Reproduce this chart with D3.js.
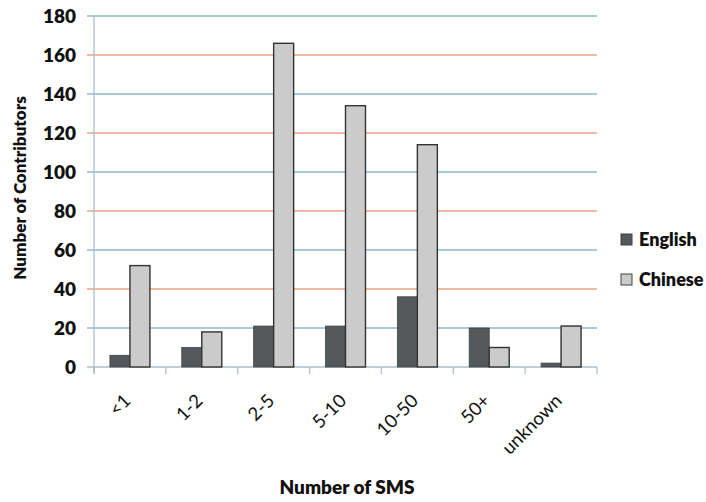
<!DOCTYPE html>
<html><head><meta charset="utf-8">
<script src="https://cdn.jsdelivr.net/npm/d3@7"></script>
<style>body{margin:0;background:#fff;} text{font-family:Lato,"Open Sans",sans-serif;font-weight:bold;}</style>
</head><body>
<svg id="c" width="706" height="502"></svg>
<script>
const categories = ["<1","1-2","2-5","5-10","10-50","50+","unknown"];
const english = [6,10,21,21,36,20,2];
const chinese = [52,18,166,134,114,10,21];
const yTicks = [0,20,40,60,80,100,120,140,160,180];
const seriesNames = ["English","Chinese"];

const svg = d3.select("#c");
const pL = 94, pR = 597, pT = 16, pB = 367;
const x = d3.scaleBand().domain(categories).range([pL,pR]);
const y = d3.scaleLinear().domain([0,180]).range([pB,pT]);

// gridlines
svg.append("g").selectAll("line").data(yTicks.filter(d=>d>0)).join("line")
  .attr("x1",pL-7).attr("x2",pR).attr("y1",d=>y(d)).attr("y2",d=>y(d))
  .attr("stroke",d=> (d/20)%2===1 ? "#8db8d2" : "#e4a486").attr("stroke-width",1.3);

// y axis line
svg.append("line").attr("x1",pL).attr("x2",pL).attr("y1",pT).attr("y2",pB+6)
  .attr("stroke","#a9bfcc").attr("stroke-width",1.3);
// x axis line
svg.append("line").attr("x1",pL-7).attr("x2",pR).attr("y1",pB).attr("y2",pB)
  .attr("stroke","#a9bfcc").attr("stroke-width",1.3);
// x ticks at band boundaries
const bounds = categories.map(c=>x(c)).concat([pR]);
svg.append("g").selectAll("line").data(bounds).join("line")
  .attr("x1",d=>d).attr("x2",d=>d).attr("y1",pB).attr("y2",pB+7)
  .attr("stroke","#a9bfcc").attr("stroke-width",1.3);

// y tick labels
svg.append("g").selectAll("text").data(yTicks).join("text")
  .attr("x",76).attr("y",d=>y(d)).attr("dy","0.36em").attr("text-anchor","end")
  .attr("font-size",19).style("font-weight",800).attr("fill","#111").text(d=>d);

const bw = 20;
// English bars
svg.append("g").selectAll("rect").data(english).join("rect")
  .attr("x",(d,i)=>x(categories[i])+x.bandwidth()/2-bw).attr("width",bw)
  .attr("y",d=>y(d)).attr("height",d=>pB-y(d))
  .attr("fill","#56595b").attr("stroke","#3e4244").attr("stroke-width",0.8);
// Chinese bars
svg.append("g").selectAll("rect").data(chinese).join("rect")
  .attr("x",(d,i)=>x(categories[i])+x.bandwidth()/2).attr("width",bw)
  .attr("y",d=>y(d)).attr("height",d=>pB-y(d))
  .attr("fill","#cbcbcb").attr("stroke","#333").attr("stroke-width",1.4);

// x tick labels
svg.append("g").selectAll("text").data(categories).join("text")
  .attr("transform",d=>`translate(${x(d)+x.bandwidth()/2+2},402) rotate(-45)`)
  .attr("text-anchor","end").attr("font-size",18.5)
  .style("font-weight","normal").attr("fill","#111").text(d=>d);

// axis titles
svg.append("text").attr("transform","translate(26,188) rotate(-90)")
  .attr("text-anchor","middle").attr("font-size",17).style("font-weight",800).attr("fill","#111").text("Number of Contributors");
svg.append("text").attr("x",347).attr("y",494).attr("text-anchor","middle")
  .attr("font-size",19).style("font-weight",800).attr("fill","#111").text("Number of SMS");

// legend
const lg = svg.append("g").selectAll("g").data(seriesNames).join("g")
  .attr("transform",(d,i)=>`translate(621,${234+i*40})`);
lg.append("rect").attr("width",11).attr("height",11)
  .attr("fill",(d,i)=>i===0?"#56595b":"#cbcbcb").attr("stroke",(d,i)=>i===0?"#3e4244":"#444").attr("stroke-width",1);
lg.append("text").attr("x",18).attr("y",6).attr("dy","0.36em").attr("font-size",18)
  .style("font-weight",800).attr("fill","#111").text(d=>d);
</script>
</body></html>
